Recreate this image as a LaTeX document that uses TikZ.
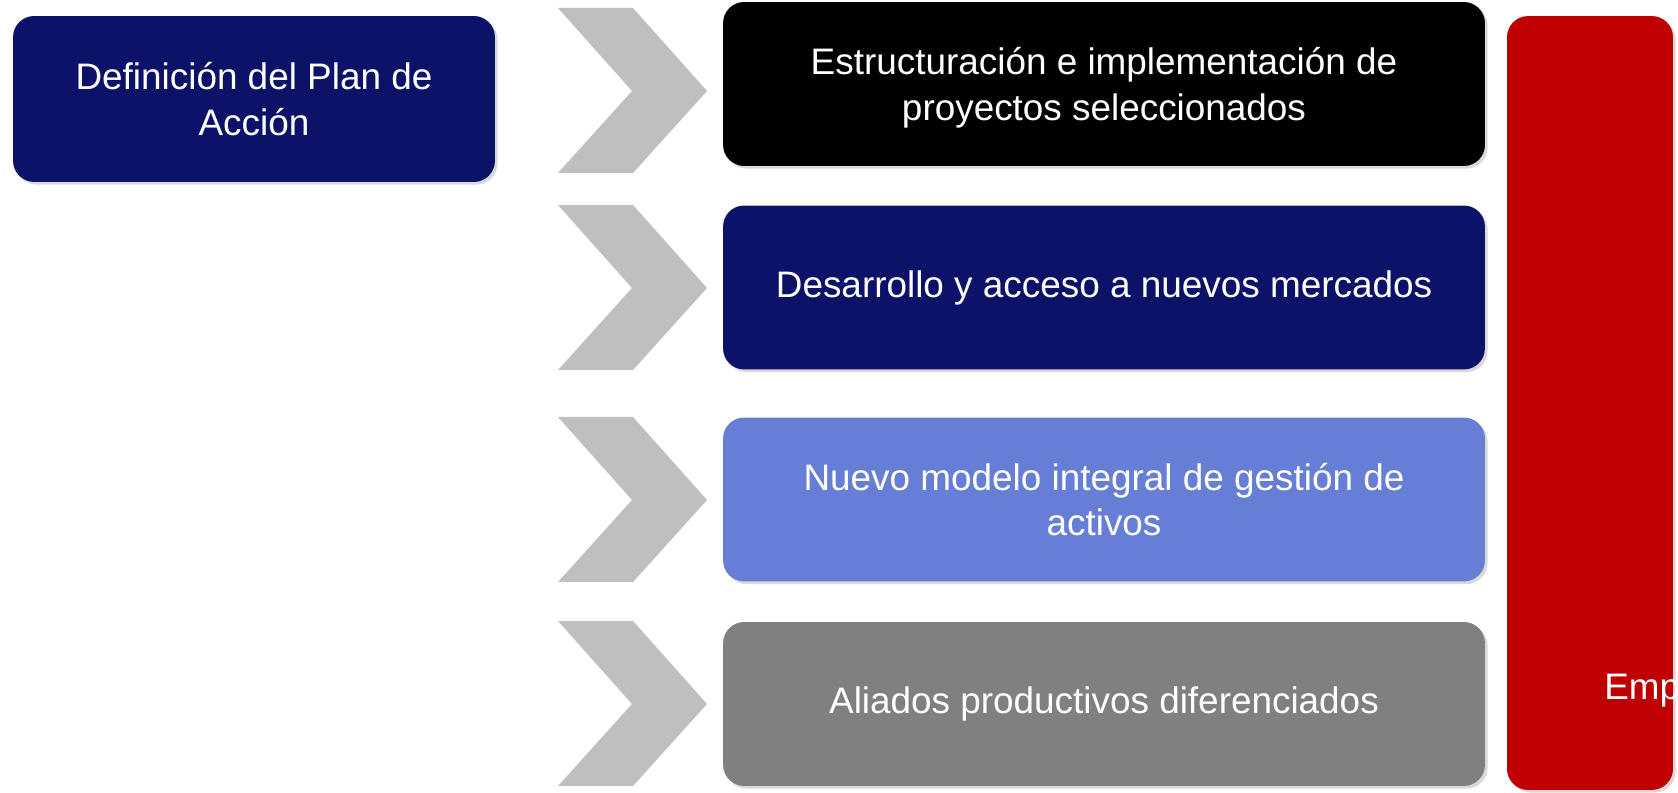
\documentclass[tikz,border=0pt]{standalone}
\usepackage{fontspec}
\setmainfont{Liberation Sans}
\usetikzlibrary{shadows}

\begin{document}
\begin{tikzpicture}[x=0.02cm, y=-0.02cm,
  box/.style={rounded corners=12pt, text=white, align=center,
    font=\fontsize{21}{26}\selectfont, inner sep=0pt,
    drop shadow={opacity=0.3, shadow xshift=1.5pt, shadow yshift=-1.5pt}},
  stepbox/.style={box, minimum width=15.24cm, minimum height=3.28cm}]
% Colors
\definecolor{navy}{RGB}{12,18,104}
\definecolor{sky}{RGB}{102,126,214}
\definecolor{slate}{RGB}{128,128,128}
\definecolor{crimson}{RGB}{192,0,0}
\definecolor{chev}{RGB}{191,191,191}

% Canvas
\useasboundingbox (0,0) rectangle (1678,793);
\clip (0,0) rectangle (1678,793);

% Starting block
\node[box, fill=navy, minimum width=9.64cm, minimum height=3.32cm] (plan) at (254,99)
  {Definición del Plan de\\Acción};

% Chevrons
\foreach \y in {8,205,417,621}{
  \fill[chev] (558,\y) -- (633,\y) -- (707,\y+83) -- (633,\y+165)
    -- (558,\y+165) -- (632,\y+83) -- cycle;
}

% Lines of action
\node[stepbox, fill=black, text depth=-6pt] (proy) at (1104,84)
  {Estructuración e implementación de\\proyectos seleccionados};
\node[stepbox, fill=navy] (merc) at (1104,287.5)
  {Desarrollo y acceso a nuevos mercados};
\node[stepbox, fill=sky] (activ) at (1104,499.5)
  {Nuevo modelo integral de gestión de\\activos};
\node[stepbox, fill=slate] (aliad) at (1104,704)
  {Aliados productivos diferenciados};

% Result block (cut at the edge)
\node[box, fill=crimson, minimum width=3.32cm, minimum height=15.48cm] (emp) at (1590,403) {};
\node[anchor=base west, inner sep=0pt, text=white, font=\fontsize{21}{26}\selectfont] (emptxt) at (1604,700) {Emp};

\end{tikzpicture}
\end{document}
